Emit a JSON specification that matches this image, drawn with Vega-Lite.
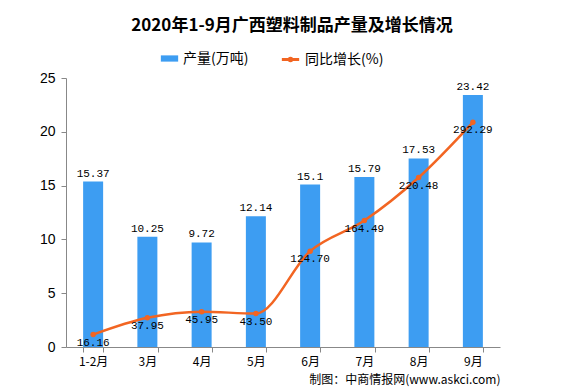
{
  "$schema": "https://vega.github.io/schema/vega-lite/v6.json",
  "width": 434,
  "height": 269,
  "autosize": "none",
  "padding": {"left": 66, "top": 78, "right": 84, "bottom": 44},
  "background": "white",
  "config": {"view": {"stroke": null}, "font": "Noto Sans CJK SC"},
  "title": {
    "text": "2020年1-9月广西塑料制品产量及增长情况",
    "font": "Noto Sans CJK SC",
    "fontSize": 17,
    "fontWeight": "bold",
    "color": "#000000",
    "offset": 14,
    "dx": 9,
    "anchor": "middle"
  },
  "data": {
    "values": [
      {"month": "1-2月", "output": 15.37, "growth": 16.16},
      {"month": "3月", "output": 10.25, "growth": 37.95},
      {"month": "4月", "output": 9.72, "growth": 45.95},
      {"month": "5月", "output": 12.14, "growth": 43.50},
      {"month": "6月", "output": 15.1, "growth": 124.70},
      {"month": "7月", "output": 15.79, "growth": 164.49},
      {"month": "8月", "output": 17.53, "growth": 220.48},
      {"month": "9月", "output": 23.42, "growth": 292.29}
    ]
  },
  "encoding": {
    "x": {
      "field": "month",
      "type": "nominal",
      "sort": null,
      "scale": {"paddingInner": 0.62, "paddingOuter": 0.31},
      "axis": {
        "labelAngle": 0,
        "labelFont": "Noto Sans CJK SC",
        "labelFontSize": 12,
        "labelColor": "#000000",
        "labelPadding": 4,
        "domainColor": "#888888",
        "tickColor": "#888888",
        "tickBand": "extent",
        "ticks": true,
        "tickSize": 5,
        "title": "制图：中商情报网(www.askci.com)",
        "titleAnchor": "end",
        "titleAlign": "right",
        "titleFont": "Noto Sans CJK SC",
        "titleFontSize": 12,
        "titleFontWeight": "normal",
        "titleColor": "#000000",
        "titlePadding": 7
      }
    }
  },
  "layer": [
    {
      "mark": {"type": "bar", "size": 20},
      "encoding": {
        "y": {
          "field": "output",
          "type": "quantitative",
          "scale": {"domain": [0, 25]},
          "axis": {
            "title": null,
            "values": [0, 5, 10, 15, 20, 25],
            "grid": false,
            "labelFont": "Liberation Sans",
            "labelFontSize": 14,
            "labelColor": "#000000",
            "domainColor": "#888888",
            "tickColor": "#888888",
            "tickSize": 5,
            "labelPadding": 6
          }
        },
        "fill": {
          "datum": "产量(万吨)",
          "type": "nominal",
          "scale": {"range": ["#3D9DF2"]},
          "legend": {
            "title": null,
            "orient": "none",
            "legendX": 94,
            "legendY": -29,
            "symbolType": "M-1,-0.36H1V0.36H-1Z",
            "symbolSize": 300,
            "labelFont": "Noto Sans CJK SC",
            "labelFontSize": 14,
            "labelColor": "#000000",
            "padding": 0,
            "labelOffset": 4
          }
        }
      }
    },
    {
      "mark": {"type": "text", "dy": -8, "font": "Liberation Mono", "fontSize": 11, "color": "#000000"},
      "encoding": {
        "y": {"field": "output", "type": "quantitative", "scale": {"domain": [0, 25]}, "axis": null},
        "text": {"field": "output", "type": "quantitative"}
      }
    },
    {
      "layer": [
        {
          "mark": {"type": "line", "strokeWidth": 2.5, "interpolate": "monotone"},
          "encoding": {
            "y": {
              "field": "growth",
              "type": "quantitative",
              "scale": {"domain": [0, 350]},
              "axis": {
                "title": null,
                "orient": "right",
                "values": [0, 50, 100, 150, 200, 250, 300, 350],
                "format": ".2f",
                "grid": false,
                "labelFont": "Liberation Mono",
                "labelFontSize": 13,
                "labelColor": "#000000",
                "domainColor": "#888888",
                "tickColor": "#888888",
                "tickSize": 5,
                "labelPadding": 5
              }
            },
            "stroke": {
              "datum": "同比增长(%)",
              "type": "nominal",
              "scale": {"range": ["#F26522"]},
              "legend": {
                "title": null,
                "orient": "none",
                "legendX": 214,
                "legendY": -29,
                "symbolType": "M-1,0H1M-0.15,0A0.15,0.15,0,1,1,0.15,0A0.15,0.15,0,1,1,-0.15,0",
                "symbolSize": 300,
                "symbolStrokeWidth": 3,
                "labelFont": "Noto Sans CJK SC",
                "labelFontSize": 14,
                "labelColor": "#000000",
                "padding": 0,
                "labelOffset": 4
              }
            }
          }
        },
        {
          "mark": {"type": "point", "shape": "circle", "filled": true, "size": 30, "color": "#F26522", "opacity": 1},
          "encoding": {
            "y": {"field": "growth", "type": "quantitative", "scale": {"domain": [0, 350]}, "axis": null}
          }
        },
        {
          "mark": {"type": "text", "dy": 8, "font": "Liberation Mono", "fontSize": 11, "color": "#000000"},
          "encoding": {
            "y": {"field": "growth", "type": "quantitative", "scale": {"domain": [0, 350]}, "axis": null},
            "text": {"field": "growth", "type": "quantitative", "format": ".2f"}
          }
        }
      ]
    }
  ],
  "resolve": {"scale": {"y": "independent"}}
}
